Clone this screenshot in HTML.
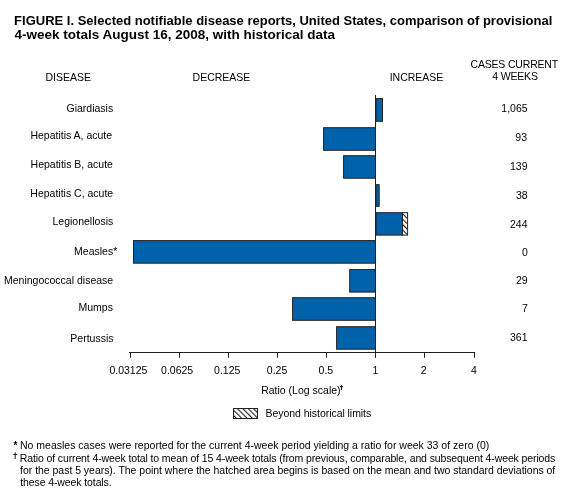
<!DOCTYPE html>
<html><head><meta charset="utf-8">
<style>
html,body{margin:0;padding:0;background:#fff;}
body{width:568px;height:497px;position:relative;overflow:hidden;font-family:"Liberation Sans",sans-serif;color:#000;}
.t{position:absolute;white-space:nowrap;line-height:normal;}
svg{position:absolute;left:0;top:0;}
</style></head><body>
<svg width="568" height="497" viewBox="0 0 568 497">
<defs>
<pattern id="hatch" width="3.8" height="3.8" patternUnits="userSpaceOnUse" patternTransform="rotate(-45)">
<rect width="3.8" height="3.8" fill="#fff"/><rect x="0" y="0" width="1.1" height="3.8" fill="#231f20"/>
</pattern>
</defs>
<g fill="rgb(0,98,170)" stroke="#231f20" stroke-width="1">
<rect x="376.00" y="98.60" width="6.50" height="22.70"/><rect x="323.60" y="127.70" width="51.90" height="22.60"/><rect x="343.60" y="155.70" width="31.90" height="22.50"/><rect x="376.00" y="184.70" width="3.20" height="21.60"/><rect x="376.00" y="212.70" width="26.50" height="22.40"/><rect x="133.50" y="240.60" width="242.00" height="22.60"/><rect x="349.70" y="269.60" width="25.80" height="22.50"/><rect x="292.60" y="297.70" width="82.90" height="22.60"/><rect x="336.60" y="326.70" width="38.90" height="22.50"/>
<rect x="402.5" y="212.7" width="5.1" height="22.4" fill="url(#hatch)"/>
</g>
<g stroke="#231f20" stroke-width="1" fill="none">
<line x1="375.5" y1="95" x2="375.5" y2="357.8"/>
<line x1="129" y1="352.5" x2="475" y2="352.5"/>
<line x1="130.5" y1="352" x2="130.5" y2="357.8"/><line x1="179.5" y1="352" x2="179.5" y2="357.8"/><line x1="228.5" y1="352" x2="228.5" y2="357.8"/><line x1="277.5" y1="352" x2="277.5" y2="357.8"/><line x1="326.5" y1="352" x2="326.5" y2="357.8"/><line x1="375.5" y1="352" x2="375.5" y2="357.8"/><line x1="424.5" y1="352" x2="424.5" y2="357.8"/><line x1="474.5" y1="352" x2="474.5" y2="357.8"/>
</g>
<path d="M15.2 452.2V459M13.2 454.4H17.2M341.5 385.1V390M340.1 386.6H342.9" stroke="#231f20" stroke-width="1.05" fill="none"/>
<rect x="233.5" y="408.5" width="24" height="10" fill="url(#hatch)" stroke="#231f20" stroke-width="1"/>
</svg>
<div id="tx" style="position:absolute;left:0;top:0;width:568px;height:497px;will-change:transform">
<div class="t" style="left:14.1px;top:13px;font-size:13px;font-weight:bold">FIGURE I. Selected notifiable disease reports, United States, comparison of provisional</div>
<div class="t" style="left:14.5px;top:27px;font-size:13.5px;font-weight:bold">4-week totals August 16, 2008, with historical data</div>
<div class="t" style="left:45.4px;top:71px;font-size:10.5px">DISEASE</div>
<div class="t" style="left:192.6px;top:71px;font-size:10.5px">DECREASE</div>
<div class="t" style="left:389.7px;top:71px;font-size:10.5px">INCREASE</div>
<div class="t" style="left:470.5px;top:58px;font-size:10.5px;letter-spacing:-0.18px">CASES CURRENT</div>
<div class="t" style="left:492.2px;top:70px;font-size:10.5px;letter-spacing:-0.15px">4 WEEKS</div>
<div class="t" style="left:66.5px;top:102px;font-size:10.5px">Giardiasis</div>
<div class="t" style="left:30.4px;top:129px;font-size:10.5px">Hepatitis A, acute</div>
<div class="t" style="left:30.6px;top:158px;font-size:10.5px">Hepatitis B, acute</div>
<div class="t" style="left:30.3px;top:187px;font-size:10.5px">Hepatitis C, acute</div>
<div class="t" style="left:52.5px;top:215px;font-size:10.5px">Legionellosis</div>
<div class="t" style="left:74.1px;top:245px;font-size:10.5px">Measles*</div>
<div class="t" style="left:4.0px;top:274px;font-size:10.5px">Meningococcal disease</div>
<div class="t" style="left:78.5px;top:301px;font-size:10.5px">Mumps</div>
<div class="t" style="left:70.3px;top:332px;font-size:10.5px">Pertussis</div>
<div class="t" style="left:501.3px;top:102px;font-size:10.5px">1,065</div>
<div class="t" style="left:515.3px;top:131px;font-size:10.5px">93</div>
<div class="t" style="left:510.0px;top:160px;font-size:10.5px">139</div>
<div class="t" style="left:516.0px;top:189px;font-size:10.5px">38</div>
<div class="t" style="left:510.0px;top:218px;font-size:10.5px">244</div>
<div class="t" style="left:522.0px;top:246px;font-size:10.5px">0</div>
<div class="t" style="left:516.0px;top:274px;font-size:10.5px">29</div>
<div class="t" style="left:522.0px;top:302px;font-size:10.5px">7</div>
<div class="t" style="left:510.0px;top:331px;font-size:10.5px">361</div>
<div class="t" style="left:109.4px;top:364px;font-size:10.5px">0.03125</div>
<div class="t" style="left:161.1px;top:364px;font-size:10.5px">0.0625</div>
<div class="t" style="left:214.1px;top:364px;font-size:10.5px">0.125</div>
<div class="t" style="left:266.8px;top:364px;font-size:10.5px">0.25</div>
<div class="t" style="left:318.6px;top:364px;font-size:10.5px">0.5</div>
<div class="t" style="left:372.6px;top:364px;font-size:10.5px">1</div>
<div class="t" style="left:420.8px;top:364px;font-size:10.5px">2</div>
<div class="t" style="left:471.1px;top:364px;font-size:10.5px">4</div>
<div class="t" style="left:261.2px;top:384px;font-size:10.5px">Ratio (Log scale)</div>
<div class="t" style="left:265.6px;top:407px;font-size:10.5px;letter-spacing:-0.05px">Beyond historical limits</div>
<div class="t" style="left:20.0px;top:439px;font-size:10.5px">No measles cases were reported for the current 4-week period yielding a ratio for week 33 of zero (0)</div>
<div class="t" style="left:19.7px;top:452px;font-size:10.5px;letter-spacing:-0.114px">Ratio of current 4-week total to mean of 15 4-week totals (from previous, comparable, and subsequent 4-week periods</div>
<div class="t" style="left:20.1px;top:464px;font-size:10.5px;letter-spacing:-0.03px">for the past 5 years). The point where the hatched area begins is based on the mean and two standard deviations of</div>
<div class="t" style="left:20.2px;top:476px;font-size:10.5px;letter-spacing:-0.1px">these 4-week totals.</div>
<div class="t" style="left:13.6px;top:439.5px;font-size:10px;font-weight:bold">*</div>
</div>
</body></html>
